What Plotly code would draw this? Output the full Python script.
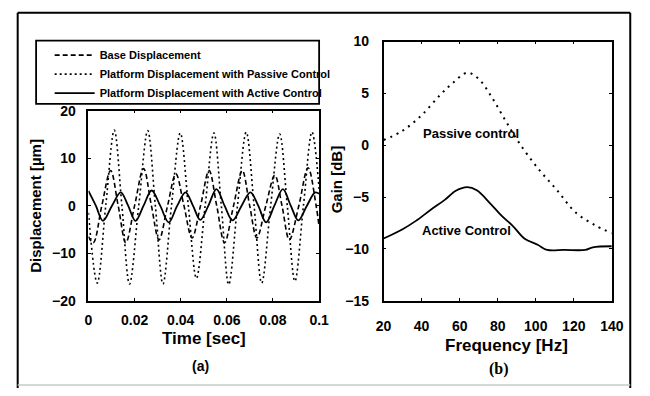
import plotly.graph_objects as go

# ---------------- data ----------------
# (a) time response
time_base = [0.0000, 0.0021, 0.0058, 0.0096, 0.0129, 0.0162, 0.0200, 0.0239, 0.0273, 0.0306,
             0.0343, 0.0379, 0.0414, 0.0449, 0.0486, 0.0523, 0.0556, 0.0590, 0.0629, 0.0667,
             0.0699, 0.0730, 0.0769, 0.0808, 0.0839, 0.0871, 0.0912, 0.0952, 0.0987, 0.1000]
disp_base = [-6.5, -7.8, 0, 7.4, 0, -7.8, 0, 7.8, 0, -7.2,
             0, 6.7, 0, -6.8, 0, 7.4, 0, -7.8, 0, 7.4,
             0, -6.8, 0, 6.4, 0, -7.2, 0, 8.0, 0, -4.5]

time_passive = [0.0000, 0.0038, 0.0075, 0.0112, 0.0145, 0.0178, 0.0218, 0.0257, 0.0290, 0.0323,
                0.0360, 0.0398, 0.0433, 0.0468, 0.0506, 0.0544, 0.0576, 0.0608, 0.0646, 0.0684,
                0.0718, 0.0751, 0.0790, 0.0829, 0.0862, 0.0895, 0.0932, 0.0969, 0.1000]
disp_passive = [-1.5, -16.3, 0, 15.9, 0, -16.5, 0, 15.8, 0, -16.5,
                0, 15.3, 0, -15.3, 0, 15.3, 0, -16.6, 0, 15.5,
                0, -16.3, 0, 15.1, 0, -15.9, 0, 15.5, 3.5]

time_active = [0.0000, 0.0032, 0.0063, 0.0102, 0.0140, 0.0172, 0.0204, 0.0239, 0.0274, 0.0311,
               0.0348, 0.0385, 0.0421, 0.0453, 0.0485, 0.0520, 0.0555, 0.0590, 0.0625, 0.0664,
               0.0702, 0.0736, 0.0770, 0.0806, 0.0843, 0.0877, 0.0910, 0.0947, 0.0983, 0.1000]
disp_active = [3.1, 0, -3.2, 0, 2.8, 0, -3.2, 0, 3.2, 0,
               -3.5, 0, 2.8, 0, -3.0, 0, 3.5, 0, -3.1, 0,
               2.8, 0, -3.5, 0, 3.5, 0, -3.1, 0, 2.8, 2.5]

# (b) frequency response
freq_passive = [20, 30, 40, 50, 57, 64, 70, 77, 84, 91, 101, 111, 121, 131, 140]
gain_passive = [0.5, 1.4, 2.9, 4.9, 6.1, 7.0, 6.4, 4.6, 2.4, 0.3, -2.2, -4.3, -6.5, -7.7, -8.5]

freq_active = [20, 30, 37, 45, 52, 58, 64, 69, 76, 82, 88, 94, 101, 106, 115, 126, 130, 140]
gain_active = [-9.0, -8.1, -7.3, -6.2, -5.3, -4.4, -4.05, -4.35, -5.6, -6.8, -7.8, -9.0, -9.6,
               -10.1, -10.1, -10.1, -9.85, -9.75]

x_ticks_a = [0, 0.02, 0.04, 0.06, 0.08, 0.1]
x_text_a = ["0", "0.02", "0.04", "0.06", "0.08", "0.1"]
y_ticks_a = [-20, -10, 0, 10, 20]
x_ticks_b = [20, 40, 60, 80, 100, 120, 140]
y_ticks_b = [-15, -10, -5, 0, 5, 10]

# ---------------- figure ----------------
W, H = 650, 396
SANS = "Liberation Sans, Arial, sans-serif"
SERIF = "Liberation Serif, Times New Roman, serif"


def px(x):
    return x / W


def py(y):
    return 1 - y / H


fig = go.Figure()
fig.add_trace(go.Scatter(x=time_base, y=disp_base, mode="lines", name="Base Displacement",
                         line=dict(color="black", width=1.6, dash="5px,3px", shape="spline"),
                         xaxis="x", yaxis="y"))
fig.add_trace(go.Scatter(x=time_passive, y=disp_passive, mode="lines",
                         name="Platform Displacement with Passive Control",
                         line=dict(color="black", width=1.6, dash="2px,3px", shape="spline"),
                         xaxis="x", yaxis="y"))
fig.add_trace(go.Scatter(x=time_active, y=disp_active, mode="lines",
                         name="Platform Displacement with Active Control",
                         line=dict(color="black", width=1.8, shape="spline"),
                         xaxis="x", yaxis="y"))
fig.add_trace(go.Scatter(x=freq_passive, y=gain_passive, mode="lines", showlegend=False,
                         name="Passive control",
                         line=dict(color="black", width=2, dash="2px,5px", shape="spline"),
                         xaxis="x2", yaxis="y2"))
fig.add_trace(go.Scatter(x=freq_active, y=gain_active, mode="lines", showlegend=False,
                         name="Active Control",
                         line=dict(color="black", width=1.8, shape="spline"),
                         xaxis="x2", yaxis="y2"))

axis_common = dict(showgrid=False, zeroline=False, showline=True, linecolor="black",
                   linewidth=1.6, mirror="ticks", ticks="inside", ticklen=3, tickcolor="black",
                   tickfont=dict(family=SANS, size=14, color="black", weight="bold"))

fig.update_layout(
    width=W, height=H, margin=dict(l=0, r=0, t=0, b=0),
    paper_bgcolor="white", plot_bgcolor="white",
    xaxis=dict(domain=[px(83), px(321)], range=[0, 0.1], tickvals=x_ticks_a, ticktext=x_text_a,
               anchor="y", ticklabelstandoff=6, **axis_common),
    yaxis=dict(domain=[py(305), py(107)], range=[-20, 20], tickvals=y_ticks_a,
               anchor="x", ticklabelstandoff=8, **axis_common),
    xaxis2=dict(domain=[px(387.5), px(623)], range=[20, 140], tickvals=x_ticks_b,
                anchor="y2", ticklabelstandoff=12, **axis_common),
    yaxis2=dict(domain=[py(305), py(35)], range=[-15, 10], tickvals=y_ticks_b,
                anchor="x2", ticklabelstandoff=10, **axis_common),
    showlegend=True,
    legend=dict(x=px(43), y=py(34), xanchor="left", yanchor="top", bgcolor="rgba(0,0,0,0)",
                borderwidth=0, itemwidth=40, tracegroupgap=0,
                font=dict(family=SANS, size=11, color="black", weight="bold")),
)

# frame, legend box
line_black = dict(color="black", width=2)
fig.add_shape(type="line", xref="paper", yref="paper", x0=px(10), y0=py(5), x1=px(642), y1=py(5), line=line_black)
fig.add_shape(type="line", xref="paper", yref="paper", x0=px(10), y0=py(5), x1=px(10), y1=py(396), line=line_black)
fig.add_shape(type="line", xref="paper", yref="paper", x0=px(642), y0=py(5), x1=px(642), y1=py(396), line=line_black)
fig.add_shape(type="line", xref="paper", yref="paper", x0=px(10), y0=py(393), x1=px(642), y1=py(393),
              line=dict(color="#c8c8c8", width=1.5))
fig.add_shape(type="rect", xref="paper", yref="paper", x0=px(29), y0=py(100), x1=px(321), y1=py(34),
              line=dict(color="black", width=1.8))

title_font = dict(family=SANS, size=17, color="black", weight="bold")
ann = [
    dict(text="Time [sec]", x=px(202), y=py(344), font=title_font),
    dict(text="Displacement [µm]", x=px(29), y=py(206), textangle=-90,
         font=dict(family=SANS, size=15, color="black", weight="bold")),
    dict(text="(a)", x=px(199), y=py(373), font=dict(family=SANS, size=14, color="black", weight="bold")),
    dict(text="Frequency [Hz]", x=px(514), y=py(352), font=title_font),
    dict(text="Gain [dB]", x=px(339), y=py(179), textangle=-90,
         font=dict(family=SANS, size=15, color="black", weight="bold")),
    dict(text="(b)", x=px(507), y=py(376), font=dict(family=SERIF, size=16, color="black", weight="bold")),
    dict(text="Passive control", x=px(478), y=py(131), font=dict(family=SANS, size=13, color="black", weight="bold")),
    dict(text="Active Control", x=px(473), y=py(232), font=dict(family=SANS, size=13, color="black", weight="bold")),
]
for a in ann:
    fig.add_annotation(xref="paper", yref="paper", showarrow=False, xanchor="center", yanchor="middle", **a)

fig.write_html("out.html", config={"displayModeBar": False, "responsive": False},
               post_script="document.body.style.margin='0px';document.body.style.overflow='hidden';")
